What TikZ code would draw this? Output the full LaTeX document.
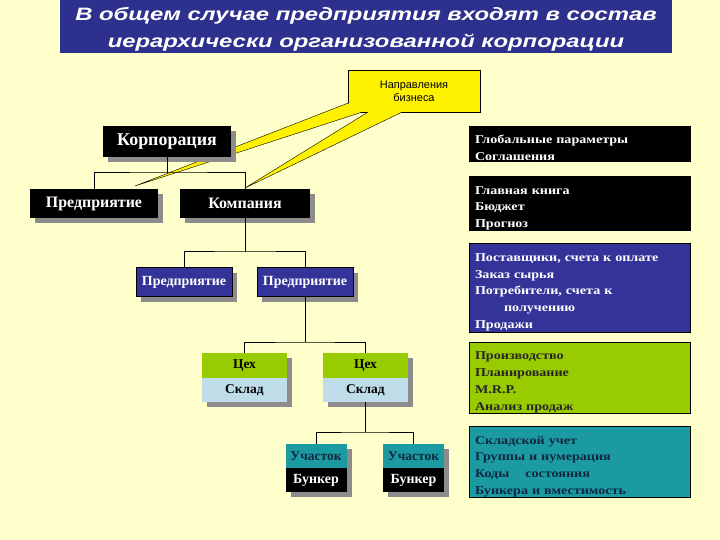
\documentclass[tikz,border=0pt]{standalone}
\usepackage{fontspec}
\setmainfont{Liberation Serif}
\newfontfamily\headfont[FakeStretch=1.33]{Liberation Sans}
\newfontfamily\notefont{Liberation Sans}
\newfontfamily\boxfont[FakeStretch=1.18]{Liberation Serif}
\usetikzlibrary{shadows,calc}

\definecolor{bgyellow}{RGB}{255,255,204}
\definecolor{titleblue}{RGB}{45,48,140}
\definecolor{boxblue}{RGB}{51,51,153}
\definecolor{boxgreen}{RGB}{153,204,0}
\definecolor{boxlight}{RGB}{191,221,232}
\definecolor{boxteal}{RGB}{27,154,162}
\definecolor{tealtext}{RGB}{16,40,64}

\tikzset{
  shbox/.style={inner sep=0pt, drop shadow={shadow xshift=5bp, shadow yshift=-5bp, fill=black!45, opacity=1}},
  darkbox/.style={shbox, fill=black, text=white, minimum height=29bp, font=\bfseries\fontsize{16}{18}\selectfont},
  bluebox/.style={shbox, fill=boxblue, draw=black, thin, text=white, minimum width=96bp, minimum height=29bp, font=\bfseries\fontsize{14}{16}\selectfont},
  shopbox/.style={shbox, fill=boxgreen, minimum width=85bp, minimum height=25bp, font=\bfseries\fontsize{13.5}{15}\selectfont},
  storebox/.style={shbox, fill=boxlight, minimum width=85bp, minimum height=24bp, font=\bfseries\fontsize{13.5}{15}\selectfont},
  secbox/.style={shbox, fill=boxteal, text=tealtext, minimum width=61bp, minimum height=24bp, font=\bfseries\fontsize{13.5}{15}\selectfont},
  bunkbox/.style={shbox, fill=black, text=white, minimum width=61bp, minimum height=24bp, font=\bfseries\fontsize{14}{15}\selectfont},
  infobox/.style={draw=black, thin, text width=209bp, inner xsep=6bp, inner ysep=0pt, align=left,
    font=\boxfont\bfseries\fontsize{12}{17}\selectfont, execute at begin node={\rule{0pt}{17.5bp}}},
  pointer/.style={fill=yellow},
  link/.style={draw=black, line width=1bp}
}

\begin{document}
\begin{tikzpicture}[x=1bp,y=-1bp]
  \fill[bgyellow] (0,0) rectangle (720,540);
  \useasboundingbox (0,0) rectangle (720,540);

  % title
  \fill[titleblue] (60,0) rectangle (672,53);
  \node[text=white, align=center, inner sep=0pt,
        font=\headfont\bfseries\itshape\fontsize{18}{27}\selectfont] (title) at (366,29.5)
    {В общем случае предприятия входят в состав\\иерархически организованной корпорации};

  % callout
  \node[fill=yellow, draw=black, thin, minimum width=132bp, minimum height=42bp, align=center,
        font=\notefont\fontsize{11}{13}\selectfont] (dir) at (414,91) {Направления\\бизнеса};
  \coordinate (tipA) at (135,186);
  \coordinate (tipB) at (245,188);
  \fill[pointer] ($(dir.south west)+(0,-9)$) -- (tipA) -- ($(dir.south west)+(14,0)$) -- cycle;
  \draw ($(dir.south west)+(0,-9)$) -- (tipA) -- ($(dir.south west)+(14,0)$);
  \fill[pointer] ($(dir.south west)+(20,0)$) -- (tipB) -- ($(dir.south west)+(54,0)$) -- cycle;
  \draw ($(dir.south west)+(20,0)$) -- (tipB) -- ($(dir.south west)+(54,0)$);

  % tree
  \node[darkbox, minimum width=128bp, minimum height=31bp, font=\bfseries\fontsize{18}{20}\selectfont] (corp) at (167,141.5) {Корпорация};
  \node[darkbox, minimum width=128bp] (ent1) at (94,203.5) {Предприятие};
  \node[darkbox, minimum width=130bp] (comp) at (245,203.5) {Компания};
  \node[bluebox] (ent2) at (184,282) {Предприятие};
  \node[bluebox] (ent3) at (305,282) {Предприятие};
  \node[shopbox] (shop1) at (244.5,365.5) {Цех};
  \node[storebox] (store1) at (244.5,390) {Склад};
  \node[shopbox] (shop2) at (365.5,365.5) {Цех};
  \node[storebox] (store2) at (365.5,390) {Склад};
  \node[secbox] (sec1) at (316,456) {Участок};
  \node[bunkbox] (bunk1) at (316,480) {Бункер};
  \node[secbox] (sec2) at (413.5,456) {Участок};
  \node[bunkbox] (bunk2) at (413.5,480) {Бункер};

  \coordinate (j1) at (167,173);
  \coordinate (j2) at (245,252);
  \coordinate (j3) at (305,342);
  \coordinate (j4) at (365.5,432);
  \draw[link] (corp.south) -- (j1);
  \draw[link] (ent1.north) |- (j1) -| (comp.north);
  \draw[link] (comp.south) -- (j2);
  \draw[link] (ent2.north) |- (j2) -| (ent3.north);
  \draw[link] (ent3.south) -- (j3);
  \draw[link] (shop1.north) |- (j3) -| (shop2.north);
  \draw[link] (store2.south) -- (j4);
  \draw[link] (sec1.north) |- (j4) -| (sec2.north);

  % right column
  \node[infobox, fill=black, text=white, minimum height=35bp] (glob) at (579.5,143.5)
    {Глобальные параметры\\Соглашения};
  \node[infobox, fill=black, text=white, minimum height=53bp] (ledger) at (579.5,203.5)
    {Главная книга\\Бюджет\\Прогноз};
  \node[infobox, fill=boxblue, text=white, minimum height=89bp] (supply) at (579.5,287.5)
    {Поставщики, счета к оплате\\Заказ сырья\\Потребители, счета к\\\hspace*{29bp}получению\\Продажи};
  \node[infobox, fill=boxgreen, text=black!85, minimum height=71bp] (prod) at (579.5,377.5)
    {Производство\\Планирование\\M.R.P.\\Анализ продаж};
  \node[infobox, fill=boxteal, text=tealtext, minimum height=70bp] (stock) at (579.5,462)
    {Складской учет\\Группы и нумерация\\Коды\ \ \ \ состояния\\Бункера и вместимость};
\end{tikzpicture}
\end{document}
